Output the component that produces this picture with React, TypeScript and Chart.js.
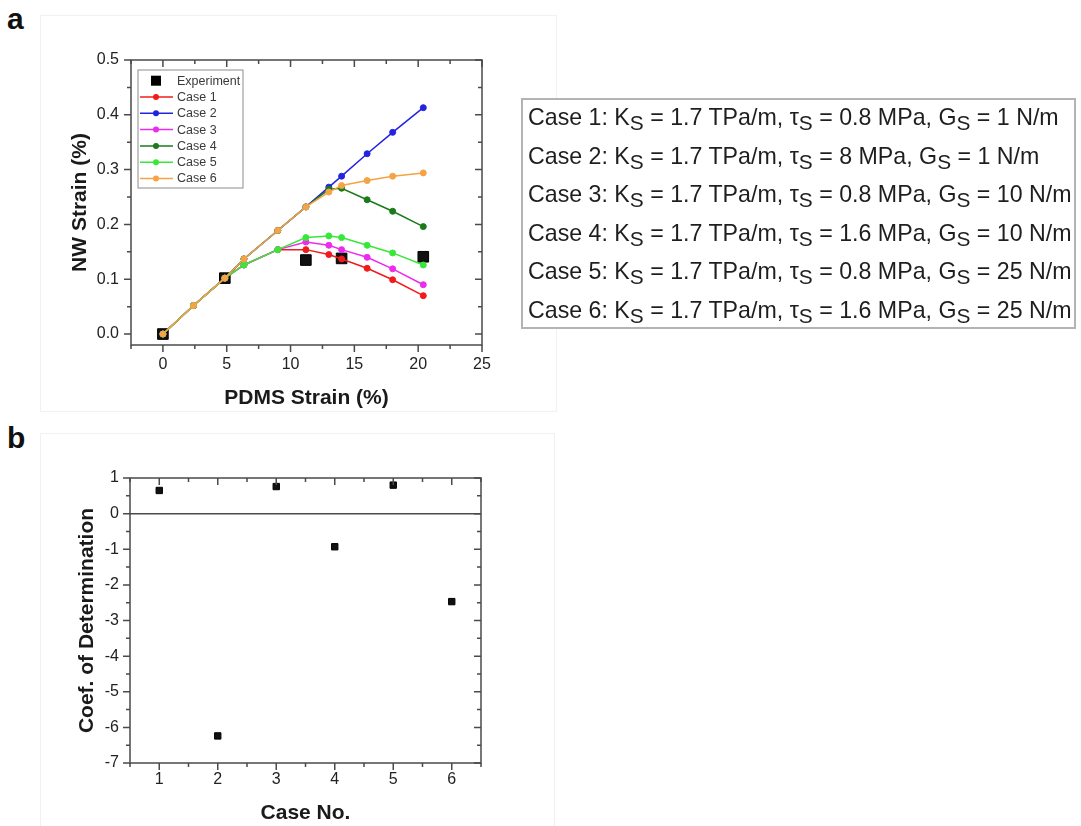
import React, { useEffect, useRef } from "react";
import { Chart, registerables } from "chart.js";

Chart.register(...registerables);

// ---------- Data (panel a) ----------
const pdmsStrain = [0, 2.4, 4.85, 6.35, 9, 11.2, 13, 14, 16, 18, 20.4];
const expStrain = [0, 4.85, 11.2, 14, 20.4];
const expNW = [0, 0.102, 0.135, 0.138, 0.141];
const case1NW = [0, 0.052, 0.102, 0.126, 0.154, 0.154, 0.145, 0.137, 0.12, 0.099, 0.07];
const case2NW = [0, 0.052, 0.102, 0.137, 0.189, 0.232, 0.268, 0.288, 0.329, 0.368, 0.413];
const case3NW = [0, 0.052, 0.102, 0.126, 0.154, 0.168, 0.162, 0.154, 0.14, 0.119, 0.09];
const case4NW = [0, 0.052, 0.102, 0.137, 0.189, 0.232, 0.264, 0.266, 0.245, 0.224, 0.196];
const case5NW = [0, 0.052, 0.102, 0.126, 0.154, 0.176, 0.179, 0.176, 0.162, 0.148, 0.126];
const case6NW = [0, 0.052, 0.102, 0.137, 0.189, 0.232, 0.259, 0.271, 0.28, 0.288, 0.294];
const caseSeries = [case1NW, case2NW, case3NW, case4NW, case5NW, case6NW];
const caseLabels = ["Case 1", "Case 2", "Case 3", "Case 4", "Case 5", "Case 6"];
const caseColors = ["#f01c1c", "#2424e0", "#ec2cec", "#1c7a1c", "#38e838", "#f5a345"];
const xTicksA = [0, 5, 10, 15, 20, 25];
const yTicksA = [0, 0.1, 0.2, 0.3, 0.4, 0.5];

// ---------- Case parameters ----------
const kS = ["1.7", "1.7", "1.7", "1.7", "1.7", "1.7"];
const tauS = ["0.8", "8", "0.8", "1.6", "0.8", "1.6"];
const gS = ["1", "1", "10", "10", "25", "25"];

// ---------- Data (panel b) ----------
const caseNo = [1, 2, 3, 4, 5, 6];
const coefDet = [0.65, -6.24, 0.76, -0.93, 0.8, -2.47];
const xTicksB = [1, 2, 3, 4, 5, 6];
const yTicksB = [-7, -6, -5, -4, -3, -2, -1, 0, 1];

const FONT = 'Arial, "Liberation Sans", sans-serif';

const frameTicks = {
  id: "frameTicks",
  beforeDatasetsDraw(chart: any, _a: any, opts: any) {
    if (!opts.zeroLine) return;
    const { ctx, chartArea, scales } = chart;
    const y0 = scales.y.getPixelForValue(0);
    ctx.save();
    ctx.strokeStyle = opts.color;
    ctx.lineWidth = 1.5;
    ctx.beginPath();
    ctx.moveTo(chartArea.left, y0);
    ctx.lineTo(chartArea.right, y0);
    ctx.stroke();
    ctx.restore();
  },
  afterDatasetsDraw(chart: any, _a: any, opts: any) {
    const { ctx, chartArea, scales } = chart;
    const { left, right, top, bottom } = chartArea;
    const xs = scales.x;
    const ys = scales.y;
    ctx.save();
    ctx.strokeStyle = opts.color;
    ctx.lineWidth = 1.5;
    ctx.strokeRect(left, top, right - left, bottom - top);
    const isMajor = (v: number, step: number) => Math.abs(v / step - Math.round(v / step)) < 1e-6;
    ctx.beginPath();
    const x0 = Math.ceil(xs.min / opts.xMinor - 1e-9) * opts.xMinor;
    for (let v = x0; v <= xs.max + 1e-9; v += opts.xMinor) {
      const p = xs.getPixelForValue(v);
      const len = isMajor(v, opts.xMajor) ? 7 : 4;
      ctx.moveTo(p, bottom);
      ctx.lineTo(p, bottom + len);
      ctx.moveTo(p, top);
      ctx.lineTo(p, top + len);
    }
    const y0 = Math.ceil(ys.min / opts.yMinor - 1e-9) * opts.yMinor;
    for (let v = y0; v <= ys.max + 1e-9; v += opts.yMinor) {
      const p = ys.getPixelForValue(v);
      const len = isMajor(v, opts.yMajor) ? 7 : 4;
      ctx.moveTo(left, p);
      ctx.lineTo(left - len, p);
      ctx.moveTo(right, p);
      ctx.lineTo(right - len, p);
    }
    ctx.stroke();

    if (opts.legend) {
      const bx = left + 7;
      const by = top + 10;
      const bw = 105;
      const bh = 118;
      ctx.fillStyle = "#fff";
      ctx.fillRect(bx, by, bw, bh);
      ctx.strokeStyle = "#8c8c8c";
      ctx.lineWidth = 1;
      ctx.strokeRect(bx, by, bw, bh);
      ctx.font = `12.5px ${FONT}`;
      ctx.textBaseline = "middle";
      ctx.textAlign = "left";
      chart.data.datasets.forEach((ds: any, i: number) => {
        const cy = by + 10.7 + i * 16.3;
        const cx = bx + 18;
        if (ds.pointStyle === "rect") {
          ctx.fillStyle = "#000";
          ctx.fillRect(cx - 5, cy - 5, 10, 10);
        } else {
          ctx.strokeStyle = ds.borderColor;
          ctx.lineWidth = 1.5;
          ctx.beginPath();
          ctx.moveTo(bx + 2, cy);
          ctx.lineTo(bx + 35, cy);
          ctx.stroke();
          ctx.fillStyle = ds.borderColor;
          ctx.beginPath();
          ctx.arc(cx, cy, 3, 0, Math.PI * 2);
          ctx.fill();
        }
        ctx.fillStyle = "#3a3a3a";
        ctx.fillText(ds.label, bx + 39, cy + 0.5);
      });
    }
    ctx.restore();
  },
};

function tickFont() {
  return { size: 16, family: FONT };
}

function configA(): any {
  const datasets: any[] = [
    {
      type: "line",
      label: "Experiment",
      data: expStrain.map((x, i) => ({ x, y: expNW[i] })),
      showLine: false,
      pointStyle: "rect",
      pointRadius: 7.5,
      pointBackgroundColor: "#111",
      pointBorderColor: "#000",
      borderColor: "#000",
      order: 10,
    },
    ...caseSeries.map((s, k) => ({
      type: "line",
      label: caseLabels[k],
      data: pdmsStrain.map((x, i) => ({ x, y: s[i] })),
      borderColor: caseColors[k],
      backgroundColor: caseColors[k],
      pointBackgroundColor: caseColors[k],
      pointBorderColor: caseColors[k],
      pointRadius: 3,
      pointBorderWidth: 1,
      borderWidth: 1.5,
      tension: 0,
      fill: false,
      order: 6 - k,
    })),
  ];
  return {
    type: "line",
    data: { datasets },
    plugins: [frameTicks],
    options: {
      responsive: false,
      animation: false,
      devicePixelRatio: 1,
      events: [],
      layout: { autoPadding: false, padding: { top: 60, right: 78, left: 0, bottom: 0 } },
      plugins: {
        legend: { display: false },
        tooltip: { enabled: false },
        frameTicks: { color: "#4a4a4a", xMinor: 2.5, xMajor: 5, yMinor: 0.05, yMajor: 0.1, legend: true },
      },
      scales: {
        x: {
          type: "linear",
          min: -2.5,
          max: 25,
          afterFit: (s: any) => {
            s.height = 75;
          },
          afterBuildTicks: (s: any) => {
            s.ticks = xTicksA.map((v) => ({ value: v }));
          },
          grid: { display: false, drawTicks: false },
          border: { display: false },
          ticks: { padding: 10, color: "#222", font: tickFont(), maxRotation: 0, autoSkip: false, callback: (v: any) => String(v) },
          title: {
            display: true,
            text: "PDMS Strain (%)",
            color: "#1a1a1a",
            font: { size: 21, weight: "bold", family: FONT },
            padding: { top: 0, bottom: 9 },
          },
        },
        y: {
          type: "linear",
          min: -0.02,
          max: 0.5,
          afterFit: (s: any) => {
            s.width = 131;
          },
          afterBuildTicks: (s: any) => {
            s.ticks = yTicksA.map((v) => ({ value: v }));
          },
          grid: { display: false, drawTicks: false },
          border: { display: false },
          ticks: { padding: 12, color: "#222", font: tickFont(), autoSkip: false, callback: (v: any) => Number(v).toFixed(1) },
          title: {
            display: true,
            text: "NW Strain (%)",
            color: "#1a1a1a",
            font: { size: 21, weight: "bold", family: FONT },
            padding: { top: 68, bottom: 0 },
          },
        },
      },
    },
  };
}

function configB(): any {
  return {
    type: "scatter",
    data: {
      datasets: [
        {
          label: "Coef. of Determination",
          data: caseNo.map((x, i) => ({ x, y: coefDet[i] })),
          pointStyle: "rect",
          pointRadius: 4.5,
          pointBackgroundColor: "#111",
          pointBorderColor: "#000",
        },
      ],
    },
    plugins: [frameTicks],
    options: {
      responsive: false,
      animation: false,
      devicePixelRatio: 1,
      events: [],
      layout: { autoPadding: false, padding: { top: 48, right: 79, left: 0, bottom: 0 } },
      plugins: {
        legend: { display: false },
        tooltip: { enabled: false },
        frameTicks: { color: "#4a4a4a", xMinor: 0.5, xMajor: 1, yMinor: 0.5, yMajor: 1, legend: false, zeroLine: true },
      },
      scales: {
        x: {
          type: "linear",
          min: 0.5,
          max: 6.5,
          afterFit: (s: any) => {
            s.height = 63;
          },
          afterBuildTicks: (s: any) => {
            s.ticks = xTicksB.map((v) => ({ value: v }));
          },
          grid: { display: false, drawTicks: false },
          border: { display: false },
          ticks: { padding: 7, color: "#222", font: tickFont(), maxRotation: 0, autoSkip: false, callback: (v: any) => String(v) },
          title: {
            display: true,
            text: "Case No.",
            color: "#1a1a1a",
            font: { size: 21, weight: "bold", family: FONT },
            padding: { top: 0, bottom: 0.5 },
          },
        },
        y: {
          type: "linear",
          min: -7,
          max: 1,
          afterFit: (s: any) => {
            s.width = 130;
          },
          afterBuildTicks: (s: any) => {
            s.ticks = yTicksB.map((v) => ({ value: v }));
          },
          grid: { display: false, drawTicks: false },
          border: { display: false },
          ticks: { padding: 11, color: "#222", font: tickFont(), autoSkip: false, callback: (v: any) => String(v) },
          title: {
            display: true,
            text: "Coef. of Determination",
            color: "#1a1a1a",
            font: { size: 21, weight: "bold", family: FONT },
            padding: { top: 75, bottom: 0 },
          },
        },
      },
    },
  };
}

function ChartCanvas({ make, left, top, width, height }: any) {
  const ref = useRef<HTMLCanvasElement>(null);
  useEffect(() => {
    const chart = new Chart(ref.current as HTMLCanvasElement, make());
    return () => chart.destroy();
  }, []);
  return (
    <canvas
      ref={ref}
      width={width}
      height={height}
      style={{ position: "absolute", left, top, width, height }}
    />
  );
}

const Sub = ({ children }: any) => (
  <span style={{ fontSize: "0.9em", position: "relative", top: 5 }}>{children}</span>
);

export default function App() {
  useEffect(() => {
    document.body.style.overflow = "hidden";
    document.body.style.background = "#fff";
  }, []);
  return (
    <div>
      <div style={{ position: "absolute", left: 40, top: 15, width: 515, height: 395, border: "1px solid #f1f1f1" }} />
      <div style={{ position: "absolute", left: 40, top: 433, width: 513, height: 400, border: "1px solid #f1f1f1" }} />
      <div style={{ position: "absolute", left: 7, top: 4, font: `bold 30px ${FONT}`, lineHeight: "30px", color: "#111" }}>a</div>
      <div style={{ position: "absolute", left: 7, top: 423, font: `bold 30px ${FONT}`, lineHeight: "30px", color: "#111" }}>b</div>
      <ChartCanvas make={configA} left={0} top={0} width={560} height={420} />
      <ChartCanvas make={configB} left={0} top={430} width={560} height={396} />
      <div
        style={{
          position: "absolute",
          left: 521,
          top: 98,
          width: 551,
          height: 227,
          border: "2px solid #b3b3b3",
          fontFamily: FONT,
          fontSize: 23.2,
          color: "#1e1e1e",
          background: "#fff",
        }}
      >
        <div style={{ position: "relative", top: -2 }}>
          {caseLabels.map((c, i) => (
            <div key={c} style={{ height: 38.6, lineHeight: "38.6px", paddingLeft: 5, whiteSpace: "nowrap" }}>
              {c}: K<Sub>S</Sub> = {kS[i]} TPa/m, τ<Sub>S</Sub> = {tauS[i]} MPa, G<Sub>S</Sub> = {gS[i]} N/m
            </div>
          ))}
        </div>
      </div>
    </div>
  );
}
